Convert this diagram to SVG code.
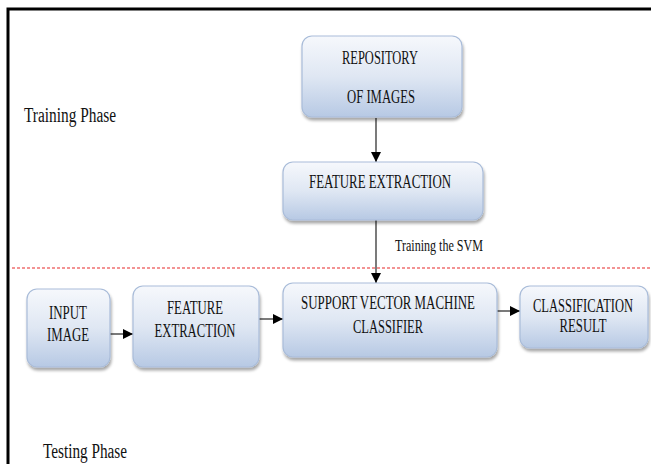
<svg xmlns="http://www.w3.org/2000/svg" width="651" height="464" viewBox="0 0 651 464">
<defs>
<linearGradient id="g" x1="0" y1="0" x2="0" y2="1">
<stop offset="0" stop-color="#f6f8fc"/>
<stop offset="0.5" stop-color="#dfe7f3"/>
<stop offset="1" stop-color="#b7c9e4"/>
</linearGradient>
<filter id="sh" x="-10%" y="-10%" width="130%" height="140%">
<feGaussianBlur in="SourceAlpha" stdDeviation="1.5"/>
<feOffset dx="1" dy="3" result="b"/>
<feComponentTransfer><feFuncA type="linear" slope="0.35"/></feComponentTransfer>
<feMerge><feMergeNode/><feMergeNode in="SourceGraphic"/></feMerge>
</filter>
<marker id="ah" viewBox="0 0 10 10" refX="10" refY="5" markerWidth="10" markerHeight="10" markerUnits="userSpaceOnUse" orient="auto">
<path d="M0,0 L10,5 L0,10 z" fill="#000"/>
</marker>
</defs>
<style>
.box{fill:url(#g);stroke:#a9bcd9;stroke-width:1.2;filter:url(#sh)}
.t{font-family:"Liberation Serif","Times New Roman",serif;font-size:18px;fill:#111;text-anchor:middle}
.p{font-family:"Liberation Serif","Times New Roman",serif;fill:#111}
.c{stroke:#222;stroke-width:1.2;fill:none;marker-end:url(#ah)}
</style>
<rect width="651" height="464" fill="#fff"/>
<path d="M8,464 V9 H651" fill="none" stroke="#000" stroke-width="3"/>
<line x1="12" y1="268" x2="651" y2="268" stroke="#f07070" stroke-width="1.5" stroke-dasharray="3,2"/>
<text class="p" x="24" y="122" font-size="20" textLength="92" lengthAdjust="spacingAndGlyphs">Training Phase</text>
<text class="p" x="43" y="458" font-size="20" textLength="84" lengthAdjust="spacingAndGlyphs">Testing Phase</text>
<g id="connectors">
<line class="c" x1="376" y1="118" x2="376" y2="162"/>
<line class="c" x1="376" y1="220" x2="376" y2="283"/>
<line class="c" x1="110" y1="334" x2="133" y2="334"/>
<line class="c" x1="259" y1="319" x2="283" y2="319"/>
<line class="c" x1="497" y1="311" x2="520" y2="311"/>
<text class="p" x="395" y="251" font-size="16" textLength="88" lengthAdjust="spacingAndGlyphs">Training the SVM</text>
</g>
<g id="repository">
<rect class="box" x="302" y="36" width="160" height="81" rx="10"/>
<text class="t" x="380" y="64" textLength="76" lengthAdjust="spacingAndGlyphs">REPOSITORY</text>
<text class="t" x="381" y="103" textLength="68" lengthAdjust="spacingAndGlyphs">OF IMAGES</text>
</g>
<g id="feature-extraction-train">
<rect class="box" x="283" y="162" width="200" height="58" rx="10"/>
<text class="t" x="380" y="188" textLength="142" lengthAdjust="spacingAndGlyphs">FEATURE EXTRACTION</text>
</g>
<g id="input-image">
<rect class="box" x="27" y="289" width="83" height="78" rx="10"/>
<text class="t" x="68" y="319" textLength="38" lengthAdjust="spacingAndGlyphs">INPUT</text>
<text class="t" x="68" y="341" textLength="42" lengthAdjust="spacingAndGlyphs">IMAGE</text>
</g>
<g id="feature-extraction-test">
<rect class="box" x="133" y="286" width="126" height="81" rx="10"/>
<text class="t" x="195" y="314" textLength="56" lengthAdjust="spacingAndGlyphs">FEATURE</text>
<text class="t" x="195" y="337" textLength="81" lengthAdjust="spacingAndGlyphs">EXTRACTION</text>
</g>
<g id="svm-classifier">
<rect class="box" x="283" y="283" width="214" height="74" rx="10"/>
<text class="t" x="388" y="309" textLength="174" lengthAdjust="spacingAndGlyphs">SUPPORT VECTOR MACHINE</text>
<text class="t" x="388" y="333" textLength="70" lengthAdjust="spacingAndGlyphs">CLASSIFIER</text>
</g>
<g id="classification-result">
<rect class="box" x="520" y="286" width="128" height="62" rx="10"/>
<text class="t" x="583" y="312" textLength="100" lengthAdjust="spacingAndGlyphs">CLASSIFICATION</text>
<text class="t" x="583" y="332" textLength="47" lengthAdjust="spacingAndGlyphs">RESULT</text>
</g>
</svg>
